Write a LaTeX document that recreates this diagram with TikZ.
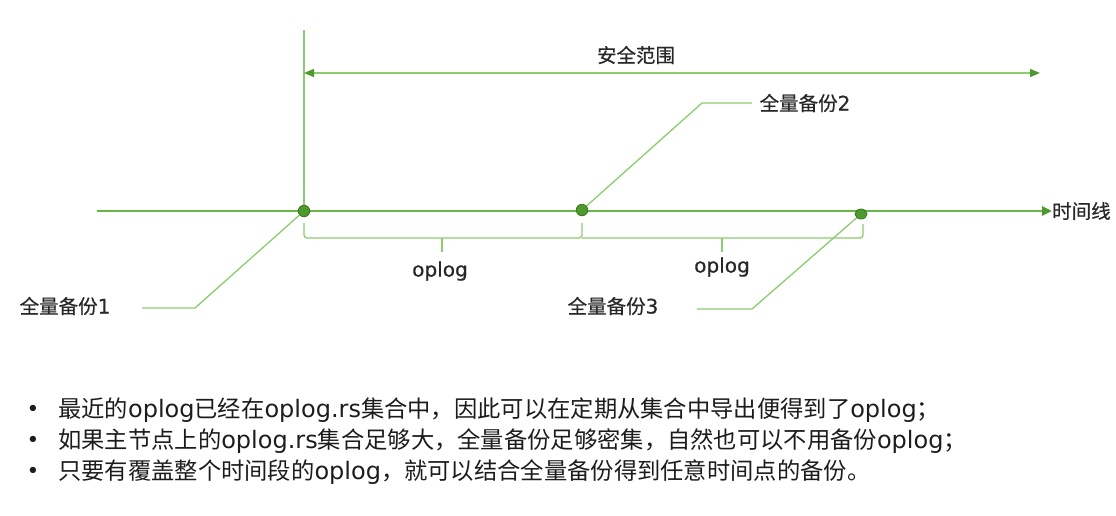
\documentclass[tikz,border=0pt]{standalone}
\usepackage{fontspec}
\setmainfont{Noto Sans CJK SC}
\newfontfamily\lat{DejaVu Sans}[Scale=1.03]
\newfontfamily\cjkbold{Noto Sans CJK SC}[FakeBold=0.5]
\newfontfamily\latbold{DejaVu Sans}[Scale=1.03,FakeBold=0.5]
\usetikzlibrary{arrows.meta,shapes.geometric}
\definecolor{lgreen}{RGB}{140,204,110}
\definecolor{tgreen}{RGB}{104,182,70}
\definecolor{dgreen}{RGB}{78,154,46}
\definecolor{dotedge}{RGB}{58,120,30}
\definecolor{txt}{RGB}{40,40,40}
\definecolor{btxt}{RGB}{28,28,28}
\begin{document}
\begin{tikzpicture}[x=1pt,y=-1pt,
  lbl/.style={font=\fontsize{19.5}{22}\selectfont\cjkbold, text=txt, inner sep=0pt},
  bul/.style={font=\fontsize{23.3}{27}\selectfont, text=btxt, inner sep=0pt, anchor=west},
  bulmark/.style={font=\fontsize{21}{24}\selectfont\lat, text=btxt, inner sep=0pt},
  dotnode/.style={circle, fill=dgreen, draw=dotedge, line width=0.8pt, minimum size=11.5pt, inner sep=0pt},
  leader/.style={draw=lgreen, line width=1.3pt},
  bracepath/.style={draw=lgreen, line width=1.3pt, rounded corners=3pt},
  ]
\useasboundingbox (0,0) rectangle (1116,515);

% timeline
\coordinate (tl0) at (97,211);
\node[lbl, anchor=west] (tlab) at (1052,211) {时间线};
\draw[tgreen, line width=2.8pt, -{Triangle[length=10pt,width=9pt,color=dgreen]}] (tl0) -- (tlab.west);

% vertical line and safe range
\coordinate (vtop) at (304,30);
\coordinate (sl) at (304,73);
\coordinate (sr) at (1040,73);
\node[lbl] (safe) at (636,55) {安全范围};

% dots
\node[dotnode] (d1) at (304,211) {};
\node[dotnode] (d2) at (582,210) {};
\node[dotnode, ellipse, minimum width=12pt, minimum height=10pt] (d3) at (861,214) {};

\draw[leader] (vtop) -- (d1.north);
\draw[lgreen, line width=1.5pt, {Triangle[length=10pt,width=8pt,color=dgreen]}-{Triangle[length=10pt,width=8pt,color=dgreen]}] (sl) -- (sr);

% labels and leaders
\node[lbl] (b2) at (805,103) {全量备份{\latbold 2}};
\coordinate (b2a) at (752,103);
\coordinate (b2k) at (702,103);
\draw[leader] (b2a) -- (b2k) -- (d2);

\node[lbl] (b1) at (65,306) {全量备份{\latbold 1}};
\coordinate (b1a) at (142,308);
\coordinate (b1k) at (195,308);
\draw[leader] (b1a) -- (b1k) -- (d1);

\node[lbl] (b3) at (613,306) {全量备份{\latbold 3}};
\coordinate (b3a) at (697,309);
\coordinate (b3k) at (752,309);
\draw[leader] (b3a) -- (b3k) -- (d3);

% braces
\draw[bracepath] (304,223) -- (304,238) -- (582,238) -- (582,223);
\draw[bracepath] (442,238) -- (442,252);
\draw[bracepath] (582,238) -- (863,238) -- (863,224);
\draw[bracepath] (722,238) -- (722,252);
\node[lbl] (op1) at (440,271) {\latbold oplog};
\node[lbl] (op2) at (722,267) {\latbold oplog};

% bullets
\node[bulmark] (m1) at (33,411) {•};
\node[bulmark] (m2) at (33,442) {•};
\node[bulmark] (m3) at (33,473) {•};
\node[bul] (t1) at (58,410) {最近的{\lat oplog}已经在{\lat oplog.rs}集合中，因此可以在定期从集合中导出便得到了{\lat oplog}；};
\node[bul] (t2) at (58,441) {如果主节点上的{\lat oplog.rs}集合足够大，全量备份足够密集，自然也可以不用备份{\lat oplog}；};
\node[bul] (t3) at (58,472) {只要有覆盖整个时间段的{\lat oplog}，就可以结合全量备份得到任意时间点的备份。};
\end{tikzpicture}
\end{document}
